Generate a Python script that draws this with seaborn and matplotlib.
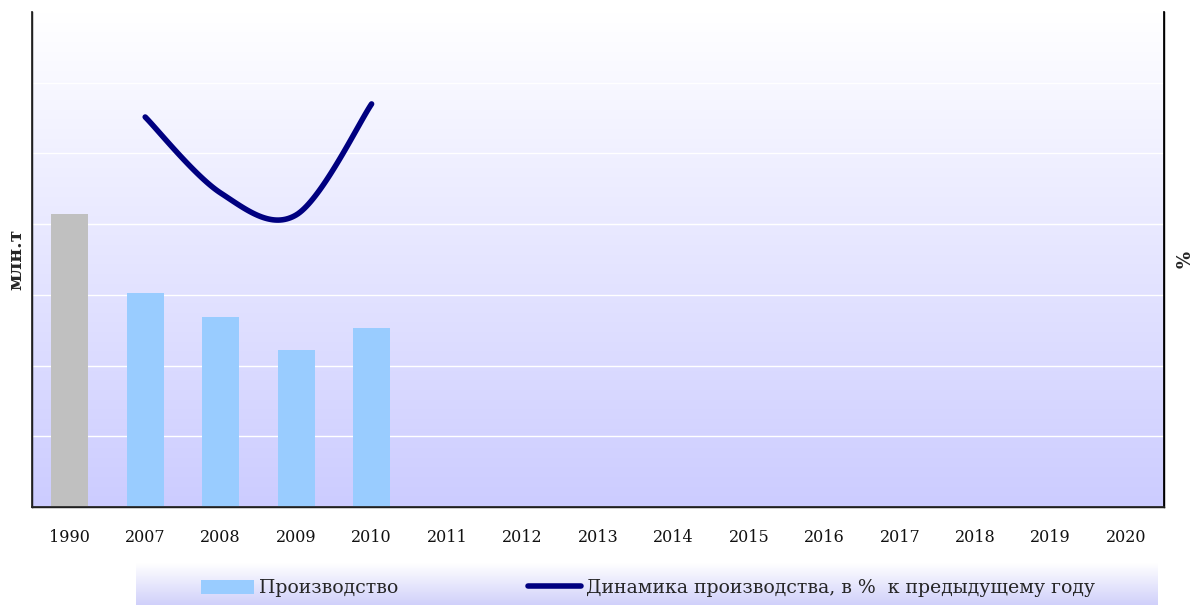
import numpy as np
import pandas as pd
import matplotlib
matplotlib.use("Agg")
import matplotlib.pyplot as plt
import seaborn as sns
from matplotlib.patches import Patch
from matplotlib.lines import Line2D

# ---- data ----
years = ["1990", "2007", "2008", "2009", "2010", "2011", "2012", "2013",
         "2014", "2015", "2016", "2017", "2018", "2019", "2020"]
production = [41.4, 30.3, 26.9, 22.2, 25.3] + [np.nan] * 10
dyn_years = ["2007", "2008", "2009", "2010"]
dynamics = [110.3, 88.8, 82.6, 114.0]
bar_colors = ["#C0C0C0"] + ["#99CCFF"] * 14
label_left = "млн.т"
label_right = "%"
legend_bar = "Производство"
legend_line = "Динамика производства, в %  к предыдущему году"

sns.set_theme(style="white")
plt.rcParams["font.family"] = ["DejaVu Serif", "DejaVu Sans"]

fig = plt.figure(figsize=(11.94, 6.05), dpi=100)
ax = fig.add_axes([32 / 1194, 1 - 507 / 605, (1164 - 32) / 1194, (507 - 12) / 605])

df = pd.DataFrame({"year": years, "value": production})
sns.barplot(data=df, x="year", y="value", hue="year", order=years,
            palette=bar_colors, legend=False, width=0.49, ax=ax,
            saturation=1, linewidth=0, zorder=3)

ax.set_xlim(-0.5, len(years) - 0.5)
ax.set_ylim(0, 70)
ax.set_yticks(np.arange(0, 71, 10))
ax.set_yticklabels([])
ax.tick_params(axis="y", length=0)
ax.tick_params(axis="x", length=0, pad=16, labelsize=11.5, colors="#111111")
ax.grid(axis="y", color="white", linewidth=1.0, zorder=1)
ax.set_axisbelow(True)
ax.set_xlabel("")
ax.set_ylabel(label_left, fontsize=13.5, fontweight="bold", labelpad=1)

# gradient background
grad = np.linspace(0, 1, 256).reshape(-1, 1)
top = np.array([1.0, 1.0, 1.0])
bot = np.array([204, 204, 255]) / 255
img = top[None, None, :] * (1 - grad[:, :, None]) + bot[None, None, :] * grad[:, :, None]
ax.imshow(img, extent=[-0.5, len(years) - 0.5, 0, 70], aspect="auto", zorder=0)

for s in ["left", "bottom", "right"]:
    ax.spines[s].set_color("black")
    ax.spines[s].set_linewidth(1.0)
ax.spines["top"].set_visible(False)

# secondary axis with smoothed line (Excel-like Catmull-Rom rendering)
ax2 = ax.twinx()
ax2.set_ylim(0, 140)
ax2.set_yticks([])
ax2.set_ylabel(label_right, fontsize=13, fontweight="bold", rotation=270, labelpad=18)
ax2.spines["top"].set_visible(False)
ax2.spines["right"].set_color("black")

xs = np.array([years.index(y) for y in dyn_years], dtype=float)
ys = np.array(dynamics, dtype=float)
px = np.concatenate([[xs[0]], xs, [xs[-1]]])
py = np.concatenate([[ys[0]], ys, [ys[-1]]])
cx, cy = [], []
t = np.linspace(0, 1, 40)
for i in range(1, len(px) - 2):
    p0, p1, p2, p3 = (np.array([px[j], py[j]]) for j in (i - 1, i, i + 1, i + 2))
    c1 = p1 + (p2 - p0) / 6
    c2 = p2 - (p3 - p1) / 6
    b = ((1 - t) ** 3)[:, None] * p1 + (3 * (1 - t) ** 2 * t)[:, None] * c1 + \
        (3 * (1 - t) * t ** 2)[:, None] * c2 + (t ** 3)[:, None] * p2
    cx.extend(b[:, 0]); cy.extend(b[:, 1])
sns.lineplot(x=cx, y=cy, sort=False, color="#000080", linewidth=4,
             solid_capstyle="round", ax=ax2, zorder=5)

# legend box with gradient
lax = fig.add_axes([136 / 1194, 0, (1158 - 136) / 1194, 42 / 605])
lgrad = np.array([1.0, 1.0, 1.0])[None, None, :] * (1 - grad[:, :, None]) + \
    (np.array([208, 208, 250]) / 255)[None, None, :] * grad[:, :, None]
lax.imshow(lgrad, extent=[0, 1, 0, 1], aspect="auto")
lax.set_xlim(0, 1); lax.set_ylim(0, 1)
lax.axis("off")
handles = [Patch(facecolor="#99CCFF", edgecolor="none"),
           Line2D([0], [0], color="#000080", linewidth=4, solid_capstyle="round")]
leg = lax.legend(handles, [legend_bar, legend_line], loc="center left",
                 bbox_to_anchor=((201 - 136) / 1022, 0.40), ncol=2, frameon=False,
                 borderaxespad=0, borderpad=0,
                 prop={"family": "DejaVu Serif", "size": 13.6},
                 handlelength=2.8, handleheight=0.75, handletextpad=0.25,
                 columnspacing=6.9)

fig.savefig("out.png", dpi=100)
